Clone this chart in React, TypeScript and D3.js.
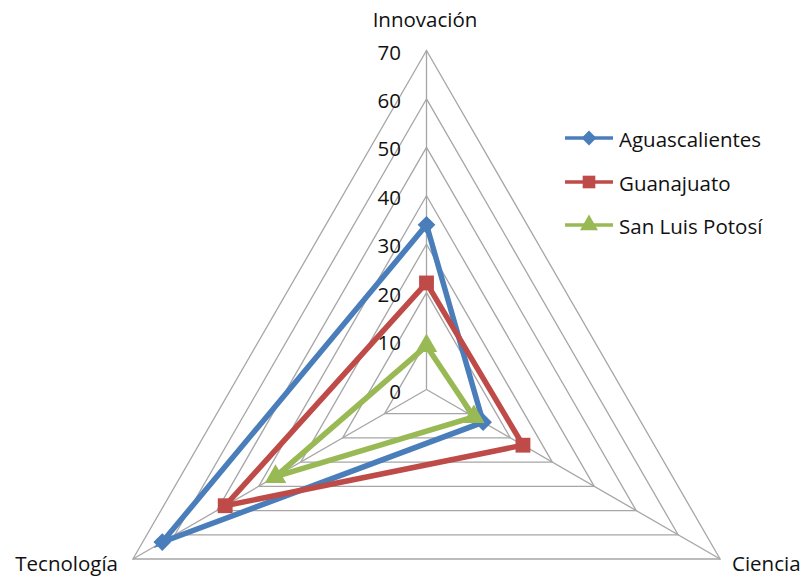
import React from "react";
import * as d3 from "d3";

const axes = ["Innovación", "Ciencia", "Tecnología"];
const seriesNames = ["Aguascalientes", "Guanajuato", "San Luis Potosí"];
const aguascalientes = [34, 13.5, 63];
const guanajuato = [22, 23, 48];
const sanLuisPotosi = [9, 11.3, 36];
const ticks = [0, 10, 20, 30, 40, 50, 60, 70];

const seriesValues = [aguascalientes, guanajuato, sanLuisPotosi];
const colors = ["#4A7EBB", "#BE4B48", "#98B954"];
const markers = [d3.symbolDiamond2, d3.symbolSquare, d3.symbolTriangle];

const W = 807;
const H = 577;
const cx = 426.5;
const cy = 389.5;
const FONT = "'Open Sans', Lato, sans-serif";
const FS = 20.5;

const r = d3.scaleLinear().domain([0, 70]).range([0, 339]);
// Innovación at top, then clockwise: Ciencia bottom-right, Tecnología bottom-left
const angle = d3
  .scaleLinear()
  .domain([0, axes.length])
  .range([-Math.PI / 2, (3 * Math.PI) / 2]);
const ang = (a: string) => angle(axes.indexOf(a));

const pt = (a: string, v: number): [number, number] => [
  cx + r(v) * Math.cos(ang(a)),
  cy + r(v) * Math.sin(ang(a)),
];

const closedLine = d3.line<[number, number]>().curve(d3.curveLinearClosed);

export default function App() {
  const rings = ticks.filter((t) => t > 0);
  return (
    <svg
      width={W}
      height={H}
      style={{ position: "absolute", left: 0, top: 0, background: "#fff" }}
      fontFamily={FONT}
    >
      {/* grid rings */}
      {rings.map((t) => (
        <path
          key={t}
          d={closedLine(axes.map((a) => pt(a, t))) || ""}
          fill="none"
          stroke="#A6A6A6"
          strokeWidth={1.3}
        />
      ))}
      {/* spokes */}
      {axes.map((a) => {
        const [x, y] = pt(a, 70);
        return <line key={a} x1={cx} y1={cy} x2={x} y2={y} stroke="#A6A6A6" strokeWidth={1.3} />;
      })}
      {/* value labels */}
      {ticks.map((t) => (
        <text
          key={t}
          x={401}
          y={cy - r(t) + 1}
          textAnchor="end"
          dominantBaseline="central"
          fontSize={FS}
          fill="#111"
        >
          {t}
        </text>
      ))}
      {/* category labels */}
      <text x={425} y={27} textAnchor="middle" fontSize={FS} fill="#111">
        {axes[0]}
      </text>
      <text x={732} y={571} textAnchor="start" fontSize={FS} fill="#111">
        {axes[1]}
      </text>
      <text x={118} y={571} textAnchor="end" fontSize={FS} fill="#111">
        {axes[2]}
      </text>
      {/* series */}
      {seriesValues.map((vals, i) => {
        const pts = axes.map((a, j) => pt(a, vals[j]));
        const sym = d3.symbol().type(markers[i]).size(i === 1 ? 220 : 200);
        return (
          <g key={i}>
            <path
              d={closedLine(pts) || ""}
              fill="none"
              stroke={colors[i]}
              strokeWidth={5.5}
              strokeLinejoin="miter"
            />
            {pts.map(([x, y], j) => (
              <path key={j} d={sym() || ""} transform={`translate(${x},${y})`} fill={colors[i]} />
            ))}
          </g>
        );
      })}
      {/* legend */}
      {seriesNames.map((name, i) => {
        const y = [138, 182, 225][i];
        const sym = d3.symbol().type(markers[i]).size(i === 1 ? 160 : 140);
        return (
          <g key={name}>
            <line x1={565} x2={613} y1={y} y2={y} stroke={colors[i]} strokeWidth={3.5} />
            <path d={sym() || ""} transform={`translate(589,${y})`} fill={colors[i]} />
            <text x={619} y={y + 1} dominantBaseline="central" fontSize={FS} fill="#111">
              {name}
            </text>
          </g>
        );
      })}
    </svg>
  );
}
